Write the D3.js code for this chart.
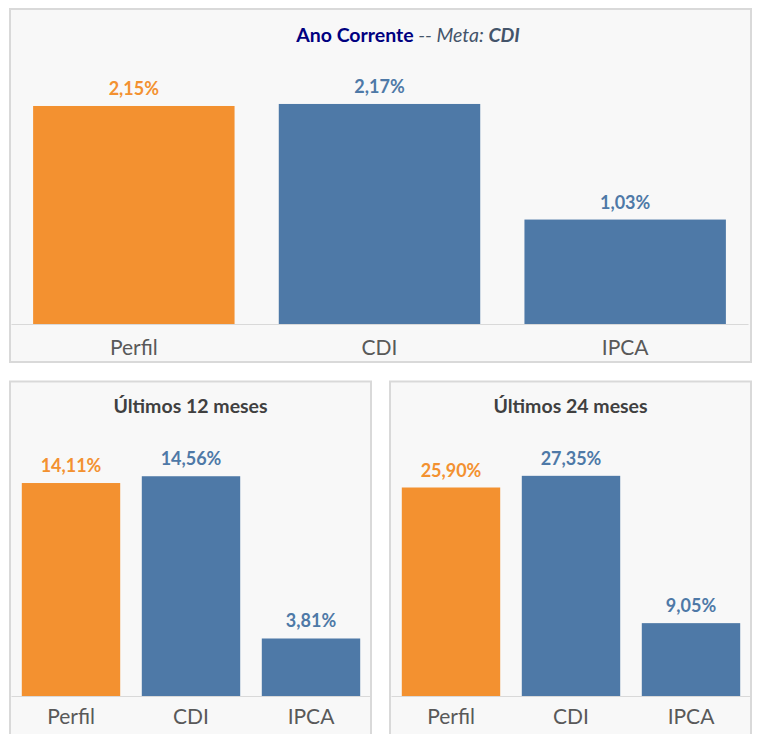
<!DOCTYPE html>
<html>
<head>
<meta charset="utf-8">
<script src="https://cdn.jsdelivr.net/npm/d3@7"></script>
<style>
  body { margin: 0; background: #ffffff; }
  svg { display: block; font-family: Lato, "Open Sans", sans-serif; }
</style>
</head>
<body>
<svg id="chart" width="761" height="734"></svg>
<script>
// data
const categories = ["Perfil", "CDI", "IPCA"];
const anoCorrente = [2.15, 2.17, 1.03];
const ultimos12 = [14.11, 14.56, 3.81];
const ultimos24 = [25.90, 27.35, 9.05];
const axisMax = [2.5, 16, 30];

const orange = "#f39130";
const blue = "#4e79a7";
const barColor = function (d, i) { return i === 0 ? orange : blue; };
const fmt = function (v) { return v.toFixed(2).replace(".", ",") + "%"; };

const svg = d3.select("#chart");

// panel frames
const panels = [
    { x: 10, y: 9, w: 741, h: 353, values: anoCorrente, max: axisMax[0], xr: [11, 748], yr: [324, 70.5] },
    { x: 10, y: 381.5, w: 361, h: 370, values: ultimos12, max: axisMax[1], xr: [11, 371], yr: [696, 454.5], title: "Últimos 12 meses", tx: 190.5 },
    { x: 390, y: 381.5, w: 361, h: 370, values: ultimos24, max: axisMax[2], xr: [391, 751], yr: [696, 454.5], title: "Últimos 24 meses", tx: 570.5 }
];

panels.forEach(function (p, k) {
    const g = svg.append("g");

    g.append("rect")
        .attr("x", p.x).attr("y", p.y)
        .attr("width", p.w).attr("height", p.h)
        .attr("fill", "#f8f8f8")
        .attr("stroke", "#d9d9d9")
        .attr("stroke-width", 2);

    const x = d3.scaleBand()
        .domain(categories)
        .range(p.xr)
        .paddingInner(0.18)
        .paddingOuter(0.09);

    const y = d3.scaleLinear()
        .domain([0, p.max])
        .range(p.yr);

    const rows = categories.map(function (c, i) { return { cat: c, value: p.values[i] }; });

    g.selectAll("rect.bar")
        .data(rows)
        .enter()
        .append("rect")
        .attr("class", "bar")
        .attr("x", function (d) { return x(d.cat); })
        .attr("y", function (d) { return y(d.value); })
        .attr("width", x.bandwidth())
        .attr("height", function (d) { return y(0) - y(d.value); })
        .attr("fill", barColor);

    g.selectAll("text.val")
        .data(rows)
        .enter()
        .append("text")
        .attr("class", "val")
        .attr("x", function (d) { return x(d.cat) + x.bandwidth() / 2; })
        .attr("y", function (d) { return y(d.value) - 11; })
        .attr("text-anchor", "middle")
        .attr("font-size", 18)
        .attr("font-weight", "bold")
        .attr("fill", barColor)
        .text(function (d) { return fmt(d.value); });

    const axis = g.append("g")
        .attr("transform", "translate(0," + y(0) + ")")
        .call(d3.axisBottom(x).tickSize(0).tickSizeOuter(0).tickPadding(k === 0 ? 16 : 13));

    axis.select(".domain")
        .attr("stroke", "#d9d9d9")
        .attr("stroke-width", 1);

    axis.selectAll("text")
        .attr("font-size", 21)
        .attr("font-family", "Lato, sans-serif")
        .attr("fill", "#595959");

    if (p.title) {
        g.append("text")
            .attr("x", p.tx)
            .attr("y", 413)
            .attr("text-anchor", "middle")
            .attr("font-size", 19.5)
            .attr("font-weight", "bold")
            .attr("fill", "#404040")
            .text(p.title);
    }
});

// main title
const title = svg.append("text")
    .attr("x", 408)
    .attr("y", 42)
    .attr("text-anchor", "middle")
    .attr("font-size", 19.5);

title.append("tspan")
    .attr("font-weight", "bold")
    .attr("fill", "#000080")
    .text("Ano Corrente");
title.append("tspan")
    .attr("font-style", "italic")
    .attr("fill", "#44546a")
    .text(" -- Meta: ");
title.append("tspan")
    .attr("font-style", "italic")
    .attr("font-weight", "bold")
    .attr("fill", "#44546a")
    .text("CDI");
</script>
</body>
</html>
